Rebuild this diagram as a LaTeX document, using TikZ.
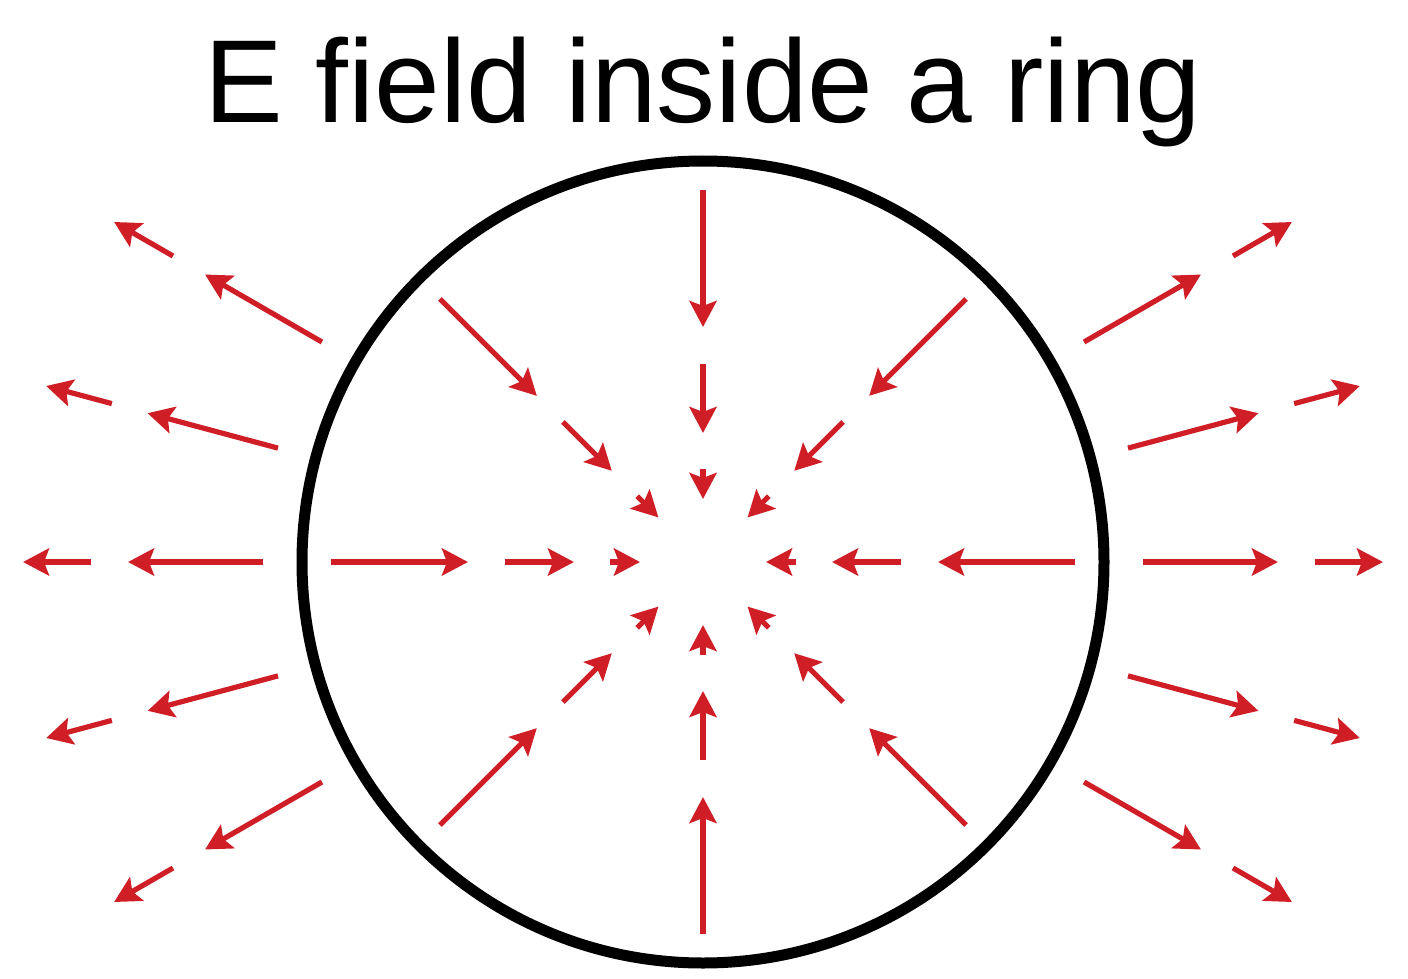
\documentclass[tikz,border=0pt]{standalone}
\usepackage{fontspec}
\setmainfont{Liberation Sans}[Ligatures=NoCommon]
\usetikzlibrary{arrows.meta,calc}
\definecolor{fieldred}{RGB}{208,30,38}
\begin{document}
\begin{tikzpicture}[x=0.5pt,y=-0.5pt,
  fieldarrow/.style={draw=fieldred, line width=2.6pt, -{Stealth[length=13pt,width=13.5pt,inset=2.5pt]}},
  ring/.style={draw=black, line width=5.5pt},
  titletext/.style={font=\fontsize{59}{62}\selectfont, anchor=base, inner sep=0pt}]
\useasboundingbox (0,0) rectangle (1408,979);
\coordinate (c) at (703,562);
\node[titletext] (title) at (703,123) {E field inside a ring};
\draw[ring] (c) circle[radius=401];
% field inside the ring: pointing to the centre
\foreach \a in {0,45,...,315} {
  \foreach \ra/\rb in {372/235, 198/129, 93/63} {
    \draw[fieldarrow] ($(c)+(\a:\ra)$) -- ($(c)+(\a:\rb)$);
  }
}
% field outside the ring: pointing outwards
\foreach \a in {-30,-15,0,15,30,150,165,180,195,210} {
  \foreach \ra/\rb in {440/575, 612/680} {
    \draw[fieldarrow] ($(c)+(\a:\ra)$) -- ($(c)+(\a:\rb)$);
  }
}
\end{tikzpicture}
\end{document}
